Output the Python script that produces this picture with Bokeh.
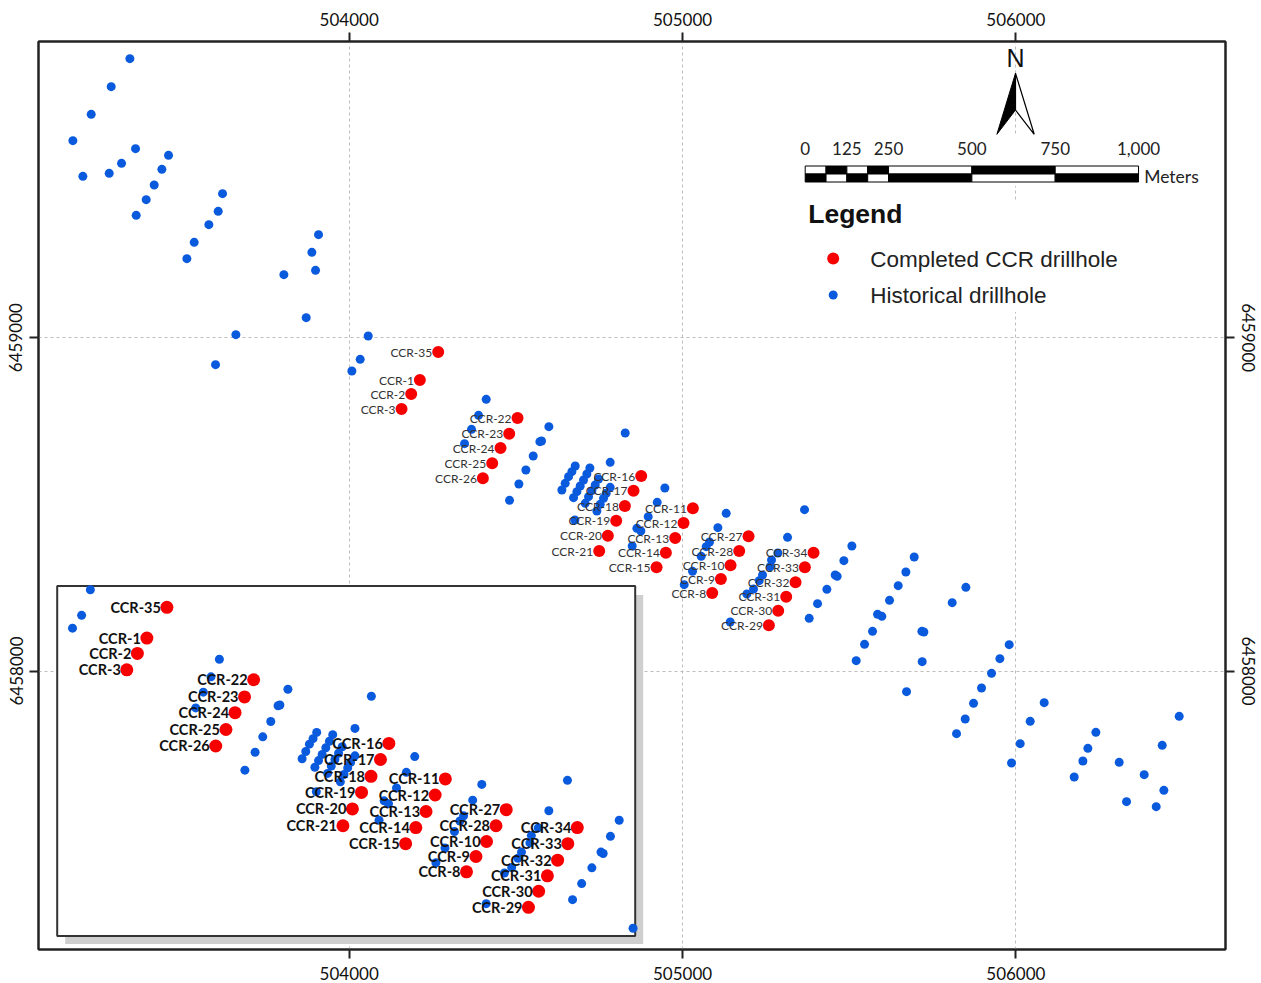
import numpy as np
from bokeh.plotting import figure
from bokeh.models import Range1d, LinearAxis, FixedTicker, BasicTickFormatter, Grid
from bokeh.core.properties import value
from bokeh.embed import file_html
from bokeh.resources import INLINE

ccr_labels = ["CCR-35","CCR-1","CCR-2","CCR-3","CCR-22","CCR-23","CCR-24","CCR-25","CCR-26",
              "CCR-16","CCR-17","CCR-18","CCR-19","CCR-20","CCR-21",
              "CCR-11","CCR-12","CCR-13","CCR-14","CCR-15",
              "CCR-27","CCR-28","CCR-10","CCR-9","CCR-8",
              "CCR-34","CCR-33","CCR-32","CCR-31","CCR-30","CCR-29"]
ccr_x = [504267,504212,504186,504157,504505,504480,504454,504429,504401,
         504876,504853,504827,504801,504776,504750,
         505031,505003,504978,504950,504922,
         505198,505170,505144,505115,505089,
         505393,505367,505339,505311,505287,505259]
ccr_y = [6458957,6458873,6458831,6458786,6458759,6458712,6458669,6458623,6458578,
         6458585,6458541,6458495,6458451,6458406,6458360,
         6458488,6458444,6458399,6458355,6458311,
         6458404,6458360,6458317,6458276,6458234,
         6458355,6458311,6458266,6458223,6458181,6458137]

hist_x = [503342,503286,503226,503171,503201,503280,503317,503359,503458,503438,503415,503391,503361,
          503620,503607,503579,503535,503513,503908,503888,503899,503804,503871,503660,503599,
          504057,504033,504008,504411,504388,504367,504346,504599,504572,504577,504552,504530,504509,504481,
          504828,504783,504678,504668,504658,504648,504638,504722,504713,504703,504693,504683,504673,
          504748,504738,504728,504718,504708,504783,504771,504763,504753,504743,504677,
          504947,504924,504897,504863,504875,504849,
          505131,505106,505081,505071,505056,505030,505005,
          505366,505315,505286,505267,505263,505240,505230,505213,505193,505143,
          505508,505484,505458,505464,505433,505405,505380,
          505695,505670,505647,505621,505585,505598,505570,505546,505521,
          505718,505724,505719,505672,505850,505809,
          505980,505952,505927,505897,505873,505848,505822,
          506085,506043,506013,505987,
          506240,506216,506201,506175,506310,506385,506332,506439,506490,506444,506421]
hist_y = [6459837,6459753,6459670,6459591,6459484,6459493,6459523,6459567,6459547,6459505,6459458,6459414,6459367,
          6459432,6459379,6459339,6459286,6459237,6459309,6459256,6459202,6459189,6459060,6459009,6458919,
          6459005,6458935,6458900,6458815,6458767,6458725,6458682,6458733,6458688,6458690,6458645,6458603,6458561,6458512,
          6458714,6458626,6458615,6458598,6458583,6458563,6458543,6458609,6458591,6458573,6458555,6458538,6458520,
          6458576,6458558,6458541,6458523,6458503,6458551,6458533,6458518,6458500,6458480,6458453,
          6458549,6458506,6458463,6458428,6458420,6458375,
          6458473,6458430,6458387,6458373,6458344,6458299,6458259,
          6458484,6458401,6458354,6458333,6458313,6458288,6458271,6458246,6458231,6458147,
          6458375,6458331,6458288,6458284,6458245,6458202,6458158,
          6458342,6458297,6458256,6458212,6458170,6458164,6458119,6458080,6458031,
          6458119,6458117,6458028,6457938,6458251,6458205,
          6458079,6458037,6457993,6457949,6457903,6457856,6457812,
          6457905,6457849,6457782,6457724,
          6457816,6457768,6457730,6457682,6457726,6457689,6457608,6457777,6457864,6457642,6457593]

x_ticks = [504000, 505000, 506000]
y_ticks = [6458000, 6459000]

scale_breaks = [0, 62.5, 125, 187.5, 250, 500, 750, 1000]
scale_labels = ["0", "125", "250", "500", "750", "1,000"]
scale_label_m = [0, 125, 250, 500, 750, 1000]
legend_labels = ["Completed CCR drillhole", "Historical drillhole"]

RED = "#f60000"
BLUE = "#0a5ade"
DARK = "#222222"
LATO = value("Lato")
ARIAL = value("Liberation Sans")

# main map: 3 metres per reference pixel, frame 39..1226 x 42..950
L, R, T, B = 39, 1226, 42, 950
mx = lambda px: 504000 + 3 * (px - 349)
my = lambda py: 6458000 + 3 * (671 - py)
NX, NY = 0.7, 0.5   # sub-pixel nudge of all marks against the frame

p = figure(frame_width=R - L, frame_height=B - T, toolbar_location=None, output_backend="svg",
           x_range=Range1d(mx(L - NX), mx(R - NX)), y_range=Range1d(my(B - NY), my(T - NY)),
           x_axis_location=None, y_axis_location=None, margin=(9, 0, 0, 6),
           background_fill_color="white", border_fill_color="white")
p.outline_line_color = DARK
p.outline_line_width = 2
p.grid.visible = False

# inset: same coordinates, magnified and shifted
SX, SY = 1.0934, 1.0977
ix = lambda px: mx(438 + (px - 166.7) / SX)
iy = lambda py: my(352 + (py - 607.3) / SY)
p.extra_x_ranges = {"px": Range1d(L - NX, R - NX), "inset": Range1d(ix(L - NX), ix(R - NX))}
p.extra_y_ranges = {"px": Range1d(B - NY, T - NY), "inset": Range1d(iy(B - NY), iy(T - NY))}

def make_axis(loc, ticks, vertical, standoff):
    ax = LinearAxis(ticker=FixedTicker(ticks=ticks), formatter=BasicTickFormatter(use_scientific=False))
    ax.major_tick_in = 0
    ax.major_tick_out = 9
    ax.minor_tick_out = 0
    ax.minor_tick_in = 0
    ax.major_tick_line_color = DARK
    ax.major_tick_line_width = 2
    ax.axis_line_color = DARK
    ax.axis_line_width = 2
    ax.major_label_text_font = "Lato"
    ax.major_label_text_font_size = "17px"
    ax.major_label_text_color = "#111111"
    ax.major_label_standoff = standoff
    if vertical:
        ax.major_label_orientation = "vertical"
    p.add_layout(ax, loc)
    return ax

ax_top = make_axis("above", x_ticks, False, 7)
ax_bot = make_axis("below", x_ticks, False, 8)
ax_left = make_axis("left", y_ticks, True, 7)
ax_right = make_axis("right", y_ticks, True, 7)

for dim, tick in ((0, x_ticks), (1, y_ticks)):
    g = Grid(dimension=dim, ticker=FixedTicker(ticks=tick))
    g.grid_line_color = "#bdbdbd"
    g.grid_line_dash = "3 3"
    g.grid_line_width = 1
    p.add_layout(g)

# white panels behind scale bar and legend
p.quad(left=[800, 800], right=[1205, 1125], top=[135, 200], bottom=[186, 312], x_range_name="px", y_range_name="px",
       fill_color="white", line_color=None)

# main map marks
p.scatter(hist_x, hist_y, size=9, color=BLUE, line_color=None)
p.scatter(ccr_x, ccr_y, size=12, color=RED, line_color=None)
p.text(np.array(ccr_x), np.array(ccr_y), text=ccr_labels, x_offset=-6, y_offset=0, text_align="right",
       text_baseline="middle", text_font=LATO, text_font_size=value("12px"), text_color="#333333")

# inset
IL, IR, IT, IB = 57, 635, 586, 936
p.quad(left=[IL + 8], right=[IR + 8], top=[IT + 9], bottom=[IB + 8], x_range_name="px", y_range_name="px",
       fill_color="#cfcfcf", line_color=None)
p.quad(left=[IL], right=[IR], top=[IT], bottom=[IB], x_range_name="px", y_range_name="px",
       fill_color="white", line_color="#333333", line_width=2)
hx, hy = np.array(hist_x), np.array(hist_y)
mask = (hx >= ix(IL)) & (hx <= ix(IR)) & (hy >= iy(IB)) & (hy <= iy(IT))
p.scatter(hx[mask], hy[mask], size=9, color=BLUE, line_color=None, x_range_name="inset", y_range_name="inset")
p.scatter(ccr_x, ccr_y, size=13, color=RED, line_color=None, x_range_name="inset", y_range_name="inset")
p.text(np.array(ccr_x), np.array(ccr_y), text=ccr_labels, x_offset=-6, y_offset=0, text_align="right",
       text_baseline="middle", text_font=LATO, text_font_size=value("14.5px"), text_font_style="bold",
       text_color="#111111", x_range_name="inset", y_range_name="inset")

# scale bar
bx0 = mx(805)
sb = np.array(scale_breaks)
for row, (ytop, ybot, first) in enumerate(((166, 174, "white"), (174, 182, "black"))):
    cols = [first if i % 2 == 0 else ("black" if first == "white" else "white") for i in range(len(sb) - 1)]
    p.quad(left=bx0 + sb[:-1], right=bx0 + sb[1:], top=[ytop] * len(cols), bottom=[ybot] * len(cols),
           y_range_name="px", fill_color=cols, line_color="black", line_width=1)
p.text(bx0 + np.array(scale_label_m), [148] * 6, text=scale_labels, y_range_name="px", text_align="center",
       text_baseline="middle", text_font=LATO, text_font_size=value("17px"), text_color="#222222")
p.text([1144], [176], text=["Meters"], x_range_name="px", y_range_name="px", text_baseline="middle",
       text_font=LATO, text_font_size=value("17.5px"), text_color="#222222")

# north arrow
p.patch([1015.3, 996.7, 1015.3], [73.3, 134.3, 110], x_range_name="px", y_range_name="px",
        fill_color="black", line_color="black", line_width=1)
p.line([1015.3, 1034, 1015.3, 1015.3], [73.3, 134.3, 110, 73.3], x_range_name="px", y_range_name="px",
       line_color="black", line_width=1.2)
p.text([1015.3], [58], text=["N"], x_range_name="px", y_range_name="px", text_align="center", text_baseline="middle",
       text_font=ARIAL, text_font_size=value("25px"), text_color="#111111")

# legend
p.text([808], [214], text=["Legend"], x_range_name="px", y_range_name="px", text_baseline="middle",
       text_font=ARIAL, text_font_size=value("26.5px"), text_font_style="bold", text_color="#111111")
p.scatter([833], [258.5], size=12, color=RED, line_color=None, x_range_name="px", y_range_name="px")
p.scatter([833], [295], size=9, color=BLUE, line_color=None, x_range_name="px", y_range_name="px")
p.text([870, 870], [259, 295.5], text=legend_labels, x_range_name="px", y_range_name="px", text_baseline="middle",
       text_font=ARIAL, text_font_size=value("22.5px"), text_color="#222222")

open("out.html", "w").write(file_html(p, INLINE))
